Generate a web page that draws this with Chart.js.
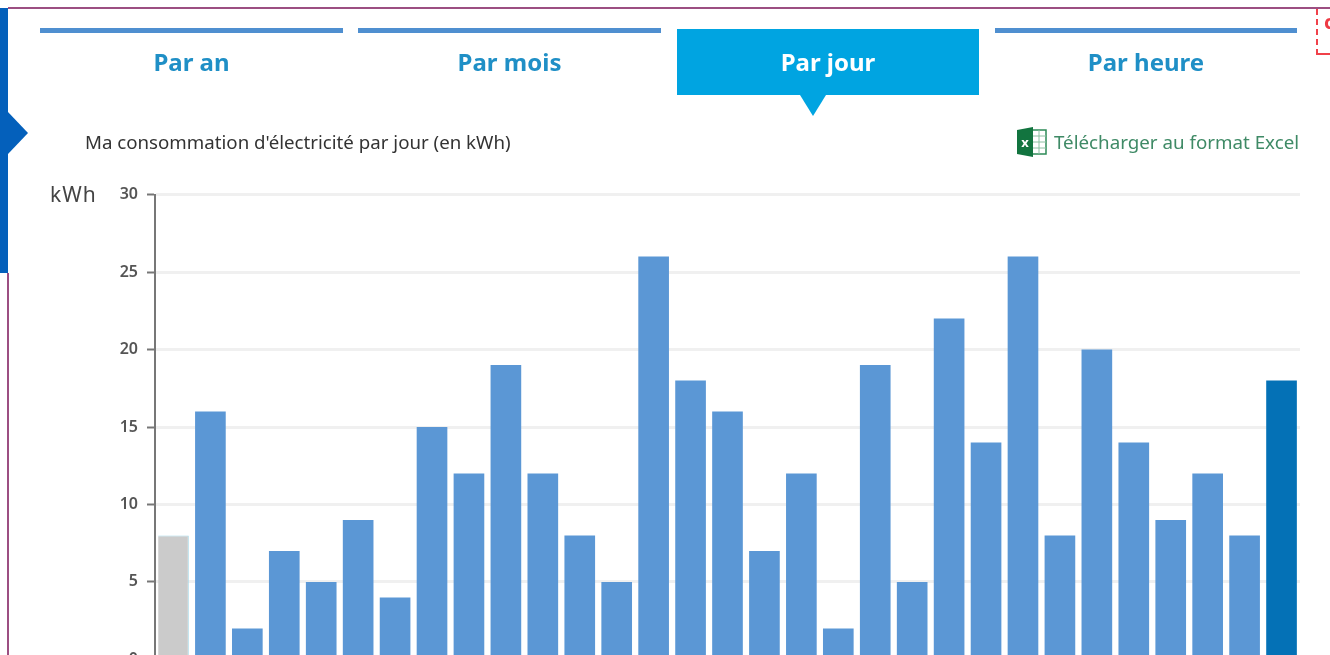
<!DOCTYPE html>
<html lang="fr">
<head>
<meta charset="utf-8">
<title>Ma consommation</title>
<script src="https://cdn.jsdelivr.net/npm/chart.js@4"></script>
<style>
html, body { margin: 0; padding: 0; width: 1330px; height: 655px; overflow: hidden; background: #fff; }
body { position: relative; font-family: "Noto Sans", sans-serif; }
#page { position: absolute; left: 0; top: 0; width: 1330px; height: 655px; overflow: hidden; filter: blur(0.7px); }
.abs { position: absolute; }
.line { height: 5px; top: 28px; background: #4f8fd0; }
.tab { top: 44px; height: 36px; line-height: 36px; text-align: center; font-size: 24px; font-weight: 700; color: #1f8fc6; }
#active { left: 677px; top: 29px; width: 302px; height: 66px; background: #00a4e1; }
#activeArrow { left: 800px; top: 95px; width: 0; height: 0; border-left: 13px solid transparent; border-right: 13px solid transparent; border-top: 21px solid #00a4e1; }
#blue { left: 0; top: 8px; width: 8px; height: 265px; background: #0460bb; }
#blueArrow { left: 8px; top: 112px; width: 0; height: 0; border-top: 21px solid transparent; border-bottom: 21px solid transparent; border-left: 20px solid #0460bb; }
#frameTop { left: 8px; top: 7px; width: 1322px; height: 2px; background: #9c4f82; }
#frameLeft { left: 7px; top: 273px; width: 2px; height: 382px; background: #9c4f82; }
#redBox { left: 1316px; top: 9px; width: 14px; height: 46px; box-sizing: border-box; border-left: 2px dashed #f0414a; border-bottom: 2px solid #f0414a; }
#redMark { left: 1324px; top: 10px; font-size: 20px; font-weight: 700; color: #ee3a44; line-height: 24px; }
#title { left: 85px; top: 129px; font-size: 18.7px; line-height: 26px; color: #333; white-space: nowrap; }
#excelText { left: 1054px; top: 129px; font-size: 18.75px; line-height: 26px; color: #3f8a66; white-space: nowrap; }
#kwh { left: 50px; top: 182px; font-size: 21px; letter-spacing: 1px; line-height: 24px; color: #444; }
#wrap { left: 0; top: 176px; width: 1300px; height: 502px; }
</style>
</head>
<body>
<div id="page">
  <div class="abs" id="frameTop"></div>
  <div class="abs" id="frameLeft"></div>
  <div class="abs" id="blue"></div>
  <div class="abs" id="blueArrow"></div>
  <div class="abs" id="redBox"></div>
  <div class="abs" id="redMark">c</div>

  <div class="abs line" style="left:40px;width:303px"></div>
  <div class="abs line" style="left:358px;width:303px"></div>
  <div class="abs line" style="left:995px;width:302px"></div>
  <div class="abs" id="active"></div>
  <div class="abs" id="activeArrow"></div>
  <div class="abs tab" style="left:40px;width:303px">Par an</div>
  <div class="abs tab" style="left:358px;width:303px">Par mois</div>
  <div class="abs tab" style="left:677px;width:302px;color:#fff">Par jour</div>
  <div class="abs tab" style="left:995px;width:302px">Par heure</div>

  <div class="abs" id="title">Ma consommation d'électricité par jour (en kWh)</div>
  <svg class="abs" style="left:1017px;top:127px" width="30" height="30" viewBox="0 0 30 30">
    <rect x="10" y="3" width="19" height="24" fill="#fff" stroke="#2d8a57" stroke-width="1.5"/>
    <path d="M15 3v24M22 3v24M10 9h19M10 15h19M10 21h19" stroke="#8cc0a2" stroke-width="1"/>
    <path d="M0 3 L16 0 V30 L0 27 Z" fill="#12743f"/>
    <text x="8" y="20" font-size="13" font-weight="700" fill="#fff" text-anchor="middle" font-family="Noto Sans">x</text>
  </svg>
  <div class="abs" id="excelText">Télécharger au format Excel</div>
  <div class="abs" id="kwh">kWh</div>

  <div class="abs" id="wrap"><canvas id="myChart" width="1300" height="502"></canvas></div>
</div>
<script>
const days = ['1','2','3','4','5','6','7','8','9','10','11','12','13','14','15','16','17','18','19','20','21','22','23','24','25','26','27','28','29','30','31'];
const kwh = [8, 16, 2, 7, 5, 9, 4, 15, 12, 19, 12, 8, 5, 26, 18, 16, 7, 12, 2, 19, 5, 22, 14, 26, 8, 20, 14, 9, 12, 8, 18];
const yTicks = [0, 5, 10, 15, 20, 25, 30];

const barColor = '#5b97d5';
const colors = kwh.map((v, i) => i === 0 ? '#cbcbcb' : i === kwh.length - 1 ? '#0471b6' : barColor);

const ctx = document.getElementById('myChart').getContext('2d');

const myChart = new Chart(ctx, {
    type: 'bar',
    data: {
        labels: days,
        datasets: [{
            label: 'kWh',
            data: kwh,
            backgroundColor: colors,
            borderColor: '#a3d6e6',
            // only the grey first bar has a thin light blue edge
            borderWidth: c => c.dataIndex === 0 ? { top: 1, right: 1, bottom: 0, left: 0 } : 0,
            barPercentage: 0.83,
            categoryPercentage: 1
        }]
    },
    options: {
        responsive: false,
        maintainAspectRatio: false,
        animation: false,
        scales: {
            x: { display: false },
            y: {
                min: 0,
                max: 30,
                afterFit: scale => { scale.width = 155; },
                afterBuildTicks: scale => { scale.ticks = yTicks.map(value => ({ value })); },
                border: { color: '#777', width: 2 },
                grid: { color: '#f0f0f0', lineWidth: 3, tickColor: '#777', tickWidth: 2, tickLength: 8 },
                ticks: {
                    color: '#555',
                    padding: 9,
                    font: { family: 'Noto Sans', size: 16, weight: '600' }
                }
            }
        },
        plugins: {
            legend: { display: false },
            tooltip: { enabled: false }
        }
    }
});
</script>
</body>
</html>
